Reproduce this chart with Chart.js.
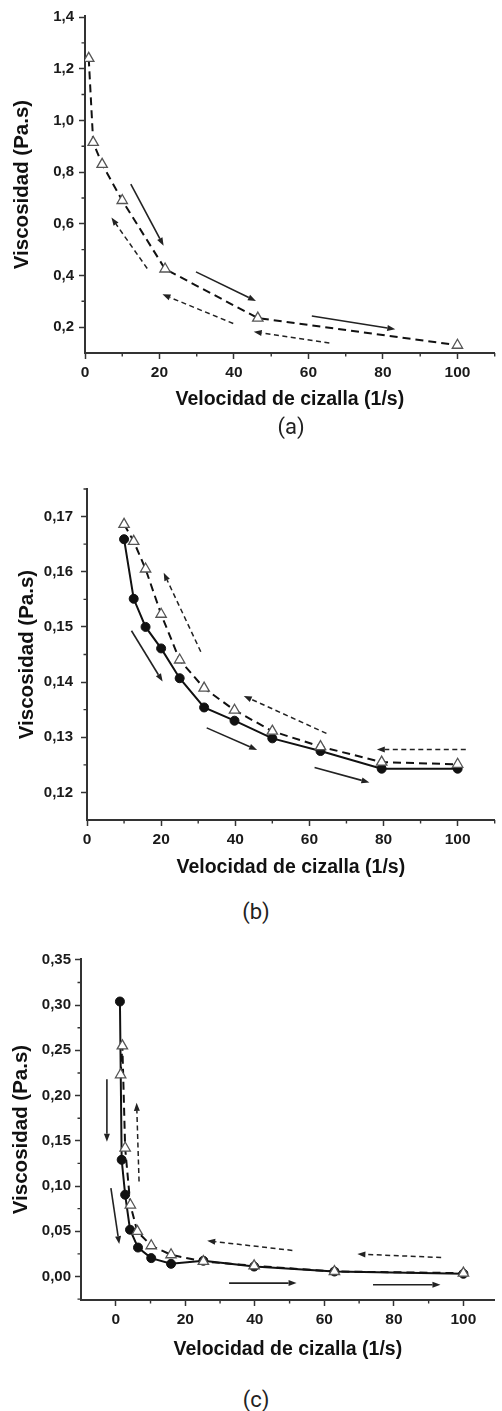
<!DOCTYPE html>
<html>
<head>
<meta charset="utf-8">
<script src="https://cdn.jsdelivr.net/npm/chart.js@4/dist/chart.umd.min.js"></script>
<style>
  html, body { margin: 0; padding: 0; background: #fff; }
  body { width: 502px; height: 1411px; position: relative; overflow: hidden; }
  .panel { position: absolute; left: 0; }
  .panel canvas { display: block; }
  .cap {
    position: absolute;
    font-family: "Liberation Sans Narrow", Roboto, sans-serif;
    font-size: 22px;
    color: #222;
    transform: translate(-50%, -50%);
  }
</style>
</head>
<body>
<div class="panel" style="top:0"><canvas id="chartA" width="502" height="420"></canvas></div>
<div class="cap" style="left:291px; top:426px">(a)</div>
<div class="panel" style="top:470px"><canvas id="chartB" width="502" height="420"></canvas></div>
<div class="cap" style="left:256px; top:911px">(b)</div>
<div class="panel" style="top:940px"><canvas id="chartC" width="502" height="430"></canvas></div>
<div class="cap" style="left:256px; top:1399px">(c)</div>

<script>
/* data (a) */
const shearA = [1.0, 2.2, 4.6, 10, 21.5, 46.4, 100];
const viscA = [1.24, 0.915, 0.83, 0.69, 0.425, 0.235, 0.13];
const yTicksA = [0.2, 0.4, 0.6, 0.8, 1.0, 1.2, 1.4];
const yMinorA = [0.3, 0.5, 0.7, 0.9, 1.1, 1.3];
const arrowsA = [
  [12.3, 0.753, 21.1, 0.515],
  [16.7, 0.427, 7.1, 0.624],
  [29.8, 0.414, 45.9, 0.301],
  [39.8, 0.214, 20.8, 0.327],
  [60.9, 0.243, 83.3, 0.192],
  [65.6, 0.139, 45.3, 0.182]
];
const arrowKindA = ["solid", "dash", "solid", "dash", "solid", "dash"];

/* data (b) */
const shearB = [10, 12.6, 15.8, 20, 25, 31.6, 39.8, 50, 63, 79.5, 100];
const viscUpB = [0.1659, 0.1551, 0.1500, 0.1461, 0.1407, 0.1354, 0.1330, 0.1298, 0.1275, 0.1243, 0.1243];
const viscDownB = [0.1686, 0.1655, 0.1605, 0.1523, 0.1440, 0.1389, 0.1349, 0.1311, 0.1283, 0.1255, 0.1251];
const yTicksB = [0.12, 0.13, 0.14, 0.15, 0.16, 0.17];
const yMinorB = [0.125, 0.135, 0.145, 0.155, 0.165, 0.175];
const arrowsB = [
  [12.0, 0.1493, 20.4, 0.1401],
  [30.7, 0.1455, 20.7, 0.1598],
  [32.3, 0.1317, 45.9, 0.1277],
  [64.6, 0.1307, 42.3, 0.1375],
  [61.4, 0.1245, 76.2, 0.1218],
  [102.2, 0.1278, 78.2, 0.1278]
];
const arrowKindB = ["solid", "dash", "solid", "dash", "solid", "dash"];

/* data (c) */
const shearUpC = [1.2, 1.7, 2.7, 4.1, 6.4, 10.2, 15.9, 25.2, 39.8, 62.9, 100];
const viscUpC = [0.304, 0.129, 0.0904, 0.0517, 0.032, 0.0203, 0.014, 0.0174, 0.011, 0.0055, 0.003];
const shearDownC = [1.4, 1.9, 2.7, 4.2, 6.2, 10.2, 15.9, 25.2, 39.8, 62.9, 100];
const viscDownC = [0.223, 0.255, 0.142, 0.079, 0.0498, 0.034, 0.024, 0.0166, 0.0118, 0.0055, 0.0037];
const yTicksC = [0.0, 0.05, 0.10, 0.15, 0.20, 0.25, 0.30, 0.35];
const yMinorC = [-0.025, 0.025, 0.075, 0.125, 0.175, 0.225, 0.275, 0.325];
const arrowsC = [
  [-2.55, 0.218, -2.55, 0.149],
  [6.7, 0.105, 6.0, 0.192],
  [-1.4, 0.0978, 1.0, 0.0358],
  [50.8, 0.0288, 26.3, 0.0395],
  [93.6, 0.021, 69.5, 0.0248],
  [32.6, -0.0073, 52, -0.0073],
  [74, -0.0092, 93.4, -0.0092]
];
const arrowKindC = ["solid", "dash", "solid", "dash", "dash", "solid", "solid"];

/* shared x ticks */
const xTicks = [0, 20, 40, 60, 80, 100];
const xMinor = [10, 30, 50, 70, 90, 110];

const xTitle = "Velocidad de cizalla (1/s)";
const yTitle = "Viscosidad (Pa.s)";

Chart.defaults.font.family = 'Arial, "Liberation Sans", sans-serif';

function toPoints(xs, ys) {
  return xs.map((x, i) => ({ x: x, y: ys[i] }));
}

// short tick marks between labelled ticks
function minorTicks(xs, ys) {
  return {
    id: "minorTicks",
    afterDraw(chart) {
      const ctx = chart.ctx;
      const sx = chart.scales.x, sy = chart.scales.y;
      ctx.save();
      ctx.strokeStyle = "#333";
      ctx.lineWidth = 1.4;
      ctx.beginPath();
      xs.forEach((v) => {
        if (v < sx.min || v > sx.max) return;
        const px = sx.getPixelForValue(v);
        ctx.moveTo(px, sx.top);
        ctx.lineTo(px, sx.top + 3.5);
      });
      ys.forEach((v) => {
        if (v < sy.min || v > sy.max) return;
        const py = sy.getPixelForValue(v);
        ctx.moveTo(sy.right, py);
        ctx.lineTo(sy.right - 3.5, py);
      });
      ctx.stroke();
      ctx.restore();
    }
  };
}

// direction arrows drawn in data space
function arrowMarks(list, kinds) {
  return {
    id: "arrowMarks",
    afterDatasetsDraw(chart) {
      const ctx = chart.ctx;
      const sx = chart.scales.x, sy = chart.scales.y;
      list.forEach((a, i) => {
        const x1 = sx.getPixelForValue(a[0]), y1 = sy.getPixelForValue(a[1]);
        const x2 = sx.getPixelForValue(a[2]), y2 = sy.getPixelForValue(a[3]);
        const dashed = kinds[i] === "dash";
        const ang = Math.atan2(y2 - y1, x2 - x1);
        const hl = 8, hw = 3;
        const bx = x2 - hl * Math.cos(ang), by = y2 - hl * Math.sin(ang);
        ctx.save();
        ctx.strokeStyle = "#222";
        ctx.fillStyle = "#222";
        ctx.lineWidth = dashed ? 1.5 : 1.6;
        ctx.setLineDash(dashed ? [5, 3.5] : []);
        ctx.beginPath();
        ctx.moveTo(x1, y1);
        ctx.lineTo(bx, by);
        ctx.stroke();
        ctx.setLineDash([]);
        ctx.beginPath();
        ctx.moveTo(x2, y2);
        ctx.lineTo(bx + hw * Math.sin(ang), by - hw * Math.cos(ang));
        ctx.lineTo(bx - hw * Math.sin(ang), by + hw * Math.cos(ang));
        ctx.closePath();
        ctx.fill();
        ctx.restore();
      });
    }
  };
}

function triangleSet(points) {
  return {
    data: points,
    borderColor: "#111",
    borderWidth: 2,
    borderDash: [8, 5],
    pointStyle: "triangle",
    pointRadius: 6,
    pointBackgroundColor: "#fff",
    pointBorderColor: "#555",
    pointBorderWidth: 1.3,
    tension: 0
  };
}

function circleSet(points) {
  return {
    data: points,
    borderColor: "#111",
    borderWidth: 2,
    pointStyle: "circle",
    pointRadius: 4.5,
    pointBackgroundColor: "#111",
    pointBorderColor: "#111",
    pointBorderWidth: 1,
    tension: 0
  };
}

function drawPanel(id, cfg) {
  const ctx = document.getElementById(id).getContext("2d");
  const gridOpts = {
    display: true,
    drawOnChartArea: false,
    drawTicks: true,
    tickLength: 6,
    tickColor: "#333",
    tickWidth: 1.5
  };
  const borderOpts = { display: true, color: "#333", width: 2 };
  const fmt = (v) => Number(v).toFixed(cfg.decimals).replace(".", ",");

  new Chart(ctx, {
    type: "line",
    data: { datasets: cfg.datasets },
    options: {
      responsive: false,
      animation: false,
      layout: { padding: { top: cfg.padTop, right: cfg.padRight, left: 0, bottom: 0 } },
      plugins: { legend: { display: false }, tooltip: { enabled: false } },
      scales: {
        x: {
          type: "linear",
          min: cfg.xMin,
          max: cfg.xMax,
          afterBuildTicks: (s) => { s.ticks = xTicks.map((v) => ({ value: v })); },
          afterFit: (s) => { s.height = cfg.xHeight; },
          grid: gridOpts,
          border: borderOpts,
          ticks: {
            color: "#1a1a1a",
            font: { size: 15.5, weight: "bold" },
            padding: 4,
            maxRotation: 0,
            autoSkip: false,
            callback: (v) => String(v)
          },
          title: {
            display: true,
            text: xTitle,
            color: "#111",
            font: { size: 19.5, weight: "bold" },
            padding: { top: 0, bottom: cfg.xTitlePad }
          }
        },
        y: {
          type: "linear",
          min: cfg.yMin,
          max: cfg.yMax,
          afterBuildTicks: (s) => { s.ticks = cfg.yTicks.map((v) => ({ value: v })); },
          afterFit: (s) => { s.width = cfg.yWidth; },
          grid: gridOpts,
          border: borderOpts,
          ticks: {
            color: "#1a1a1a",
            font: { size: 15, weight: "bold" },
            padding: cfg.yTickPad,
            autoSkip: false,
            callback: fmt
          },
          title: {
            display: true,
            text: yTitle,
            color: "#111",
            font: { size: 20.5, weight: "bold" },
            padding: { top: cfg.yTitlePad, bottom: 0 }
          }
        }
      }
    },
    plugins: [minorTicks(xMinor, cfg.yMinor), arrowMarks(cfg.arrows, cfg.arrowKinds)]
  });
}

// (a)
drawPanel("chartA", {
  datasets: [triangleSet(toPoints(shearA, viscA))],
  xMin: 0, xMax: 110, yMin: 0.1, yMax: 1.404,
  yTicks: yTicksA, yMinor: yMinorA, decimals: 1,
  padTop: 16, padRight: 1, xHeight: 67, yWidth: 85,
  xTitlePad: 8.5, yTitlePad: 9.7, yTickPad: 5,
  arrows: arrowsA, arrowKinds: arrowKindA
});

// (b)
drawPanel("chartB", {
  datasets: [triangleSet(toPoints(shearB, viscDownB)), circleSet(toPoints(shearB, viscUpB))],
  xMin: 0, xMax: 110, yMin: 0.115, yMax: 0.175,
  yTicks: yTicksB, yMinor: yMinorB, decimals: 2,
  padTop: 19, padRight: 4, xHeight: 70, yWidth: 87,
  xTitlePad: 10.5, yTitlePad: 14.7, yTickPad: 8,
  arrows: arrowsB, arrowKinds: arrowKindB
});

// (c)
drawPanel("chartC", {
  datasets: [triangleSet(toPoints(shearDownC, viscDownC)), circleSet(toPoints(shearUpC, viscUpC))],
  xMin: -10, xMax: 109, yMin: -0.026, yMax: 0.351,
  yTicks: yTicksC, yMinor: yMinorC, decimals: 2,
  padTop: 19, padRight: 1, xHeight: 70, yWidth: 81,
  xTitlePad: 8.5, yTitlePad: 8.7, yTickPad: 4,
  arrows: arrowsC, arrowKinds: arrowKindC
});
</script>
</body>
</html>
